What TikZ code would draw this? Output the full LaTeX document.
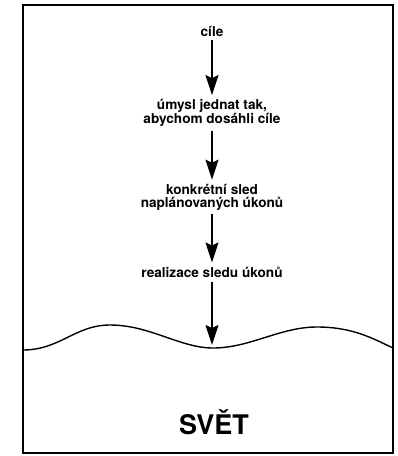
\documentclass[tikz,border=0pt]{standalone}
\usepackage{fontspec}
\setmainfont{TeX Gyre Heros}
\usetikzlibrary{arrows.meta,positioning}

\begin{document}
\begin{tikzpicture}[x=1pt,y=-1pt,
    lbl/.style={font=\bfseries\fontsize{13.6}{13}\selectfont,align=center,inner sep=4pt},
    flow/.style={line width=1.5pt,-{Stealth[length=20pt,width=13pt,inset=3pt]}}]
  \useasboundingbox (0,0) rectangle (397,456);
  \draw[line width=1.8pt,fill=white] (23,5) rectangle (393,453);
  \node[lbl] (goal) at (212,31) {cíle};
  \node[lbl] (intent) at (212,113) {úmysl jednat tak,\\abychom dosáhli cíle};
  \node[lbl] (plan) at (212,197) {konkrétní sled\\naplánovaných úkonů};
  \node[lbl] (act) at (212,272) {realizace sledu úkonů};
  \coordinate (hit) at (212,345);
  \draw[flow] (goal) -- (intent);
  \draw[flow] (intent) -- (plan);
  \draw[flow] (plan) -- (act);
  \draw[flow] (act) -- (hit);
  % the world line
  \draw[line width=1.4pt] (23,350) .. controls (60,350) and (75,325) .. (110,325)
    .. controls (150,325) and (180,348) .. (213,348)
    .. controls (250,348) and (280,327) .. (317,327)
    .. controls (352,327) and (372,338) .. (393,348);
  \node[font=\bfseries\fontsize{27}{30}\selectfont] (world) at (214,422) {SVĚT};
\end{tikzpicture}
\end{document}
